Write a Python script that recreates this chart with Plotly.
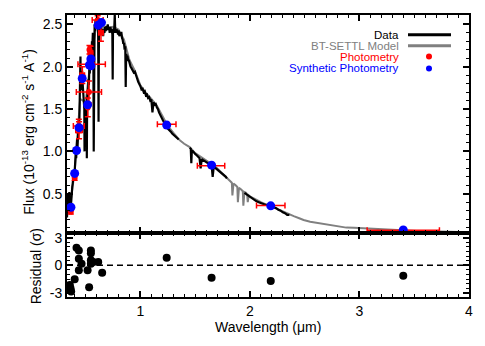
import plotly.graph_objects as go

# ---------------- data ----------------
# observed spectrum (Data, black); None marks gaps
data_wave = [0.330,0.333,0.336,0.339,0.342,0.345,0.348,0.351,0.354,0.357,0.360,0.363,0.366,0.370,0.374,0.378,
             0.382,0.386,0.390,0.394,0.398,0.402,0.406,0.410,0.414,0.418,0.422,0.426,0.430,0.434,0.438,0.442,
             0.446,0.450,0.453,0.456,0.460,0.464,0.468,0.472,0.476,0.480,0.484,0.488,0.490,0.492,0.496,0.500,
             0.504,0.508,0.511,0.514,0.518,0.522,0.526,0.530,0.534,0.538,0.542,0.546,0.550,0.554,0.558,0.562,
             0.566,0.570,0.574,0.578,0.582,0.586,0.590,0.594,0.598,0.602,0.606,0.610,0.614,0.618,0.622,0.626,
             0.630,0.636,0.642,0.648,0.654,0.660,0.666,0.672,0.678,0.684,0.690,0.696,0.702,0.708,0.714,0.720,
             0.726,0.732,0.738,0.744,0.747,0.750,0.756,0.762,0.766,0.770,0.776,0.782,0.790,0.796,0.802,0.808,
             0.814,0.820,0.826,0.832,0.838,0.844,0.850,0.856,0.862,0.866,0.870,0.876,0.882,0.888,0.894,0.900,
             0.910,0.920,0.930,0.940,0.950,0.960,0.970,0.980,0.990,1.000,1.010,1.020,1.030,1.040,1.050,1.060,
             1.070,1.080,1.090,1.100,1.110,1.120,1.130,1.140,1.150,1.160,1.170,1.180,1.190,1.200,1.210,1.220,
             1.230,1.240,1.250,1.260,1.270,1.280,1.290,1.300,1.310,1.320,1.330,1.340,1.350,1.351,
             1.450,1.460,1.465,1.470,1.480,1.490,1.500,1.510,1.520,1.530,1.540,1.550,1.560,1.570,1.580,1.590,
             1.600,1.610,1.620,1.630,1.640,1.650,1.660,1.670,1.680,1.690,1.700,1.710,1.720,1.730,1.740,1.750,
             1.760,1.770,1.780,1.790,1.791,
             1.950,1.960,1.980,2.000,2.020,2.040,2.060,2.080,2.100,2.120,2.140,2.160,2.180,2.200,2.220,2.240,
             2.260,2.280,2.300,2.320,2.340,2.360]
data_flux = [0.22,0.42,0.24,0.50,0.27,0.46,0.30,0.52,0.31,0.44,0.33,0.48,0.36,0.50,0.45,0.58,
             0.62,0.70,0.66,0.78,0.72,0.85,0.80,0.98,0.92,1.08,1.15,1.05,1.30,1.22,1.38,1.30,
             1.60,1.75,2.12,1.72,1.88,1.80,1.95,1.82,1.70,1.78,1.60,1.50,1.00,1.58,1.42,1.55,
             1.38,1.55,0.92,1.60,1.70,1.62,1.85,1.78,2.00,1.92,2.10,2.02,2.20,2.15,2.30,2.25,
             2.40,2.35,1.00,2.45,2.50,2.42,2.55,2.48,2.56,2.50,2.58,2.52,2.55,1.35,2.50,2.42,
             2.48,2.40,2.46,2.38,2.44,2.36,2.45,2.40,2.47,2.42,2.48,2.43,2.50,2.44,2.46,2.40,
             2.47,2.42,2.45,2.38,1.85,2.44,2.40,2.47,2.62,2.44,2.40,2.44,2.42,2.38,2.43,2.36,
             2.40,2.38,2.41,2.34,2.32,2.27,2.28,2.20,2.24,1.76,2.15,2.12,2.13,2.07,2.08,2.04,
             2.00,1.98,1.96,1.93,1.94,1.88,1.86,1.82,1.80,1.77,1.73,1.74,1.70,1.71,1.66,1.67,
             1.63,1.64,1.60,1.61,1.46,1.58,1.55,1.56,1.52,1.50,1.46,1.43,1.40,1.38,1.35,1.33,
             1.31,1.30,1.27,1.26,1.24,1.23,1.21,1.20,1.18,1.17,1.16,1.15,1.14,None,
             1.04,1.03,0.86,1.01,1.00,0.98,0.97,0.96,0.95,0.93,0.92,0.80,0.91,0.90,0.89,0.88,
             0.88,0.87,0.86,0.85,0.84,0.84,0.70,0.82,0.81,0.80,0.79,0.78,0.77,0.76,0.75,0.74,
             0.73,0.72,0.70,0.68,None,
             0.51,0.50,0.48,0.47,0.45,0.42,0.41,0.40,0.39,0.38,0.37,0.37,0.36,0.35,0.34,0.33,
             0.31,0.30,0.28,0.27,0.25,0.25]

# BT-SETTL model (grey)
model_wave = [0.330,0.360,0.400,0.450,0.500,0.550,0.600,0.650,0.700,0.750,0.800,0.850,0.900,0.950,
              1.000,1.050,1.100,1.150,1.200,1.250,1.300,1.360,1.400,1.450,1.500,1.550,1.600,1.650,
              1.700,1.750,1.780,1.800,1.835,1.840,1.850,1.870,1.885,1.890,1.900,1.920,1.935,1.940,
              1.950,1.965,1.975,1.980,1.990,2.000,2.050,2.100,2.150,2.200,2.250,2.300,2.350,2.400,
              2.450,2.490,2.550,2.600,2.670,2.750,2.800,2.880,2.950,3.000,3.130,3.270,3.400,3.520,
              3.640,3.800,4.000]
model_flux = [0.25,0.38,0.76,1.62,1.58,2.12,2.50,2.47,2.46,2.47,2.44,2.32,2.08,1.95,
              1.78,1.69,1.62,1.54,1.42,1.30,1.22,1.13,1.09,1.05,0.98,0.94,0.89,0.85,
              0.80,0.74,0.70,0.67,0.63,0.48,0.62,0.60,0.58,0.40,0.57,0.55,0.53,0.36,
              0.52,0.51,0.49,0.40,0.48,0.47,0.43,0.40,0.37,0.35,0.32,0.29,0.26,0.235,
              0.21,0.19,0.17,0.16,0.15,0.13,0.12,0.10,0.098,0.094,0.084,0.073,0.064,0.060,
              0.056,0.050,0.045]

# observed photometry (red) with error bars
phot_wave = [0.365,0.400,0.438,0.440,0.470,0.520,0.530,0.555,0.545,0.535,0.610,0.640,1.240,1.645,2.190,3.400]
phot_flux = [0.29,0.69,1.30,1.25,1.90,1.52,1.70,2.03,2.16,2.20,2.55,2.40,1.32,0.83,0.36,0.07]
phot_werr = [0.010,0.010,0.050,0.030,0.020,0.010,0.115,0.125,0.020,0.010,0.050,0.020,0.085,0.125,0.130,0.330]
phot_ferr = [0.03,0.03,0.08,0.10,0.10,0.11,0.13,0.02,0.08,0.05,0.05,0.10,0.02,0.02,0.015,0.01]

# synthetic photometry (blue)
syn_wave = [0.366,0.400,0.417,0.440,0.469,0.518,0.535,0.548,0.548,0.615,0.645,1.240,1.650,2.190,3.400]
syn_flux = [0.34,0.74,1.01,1.28,1.86,1.55,2.02,2.01,2.09,2.49,2.52,1.31,0.837,0.357,0.073]

# residuals (sigma)
res_wave = [0.356,0.362,0.368,0.360,0.400,0.417,0.438,0.438,0.438,0.463,0.518,0.548,0.548,0.548,
            0.548,0.532,0.569,0.615,0.651,1.240,1.650,2.190,3.400]
res_val = [-2.14,-2.50,-2.86,-2.70,-1.53,1.90,1.60,0.72,-0.53,0.18,-0.53,1.60,1.30,0.54,
           0.18,-2.40,0.36,0.36,-0.82,0.82,-1.36,-1.71,-1.15]

x_range = [0.33, 4.0]
flux_range = [0.04, 2.61]
res_range = [-3.45, 3.55]
x_ticks = [1, 2, 3, 4]
flux_ticks = [0.5, 1.0, 1.5, 2.0, 2.5]
flux_ticklabels = ["0.5", "1.0", "1.5", "2.0", "2.5"]
res_ticks = [-3, 0, 3]
res_ticklabels = ["-3", "0", "3"]

legend_items = [("Data", "black", "line"), ("BT-SETTL Model", "#808080", "line"),
                ("Photometry", "red", "dot"), ("Synthetic Photometry", "blue", "dot")]

# ---------------- figure ----------------
FONT = "Liberation Sans, Arial, Helvetica, sans-serif"
L, R, T, B = 67, 16, 12, 49
W, H = 485, 346
pw, ph = float(W - L - R), float(H - T - B)

def px_x(px):
    return (px - L) / pw

def px_y(py):
    return 1 - (py - T) / ph

fig = go.Figure()

fig.add_trace(go.Scatter(x=model_wave, y=model_flux, mode="lines",
                         line=dict(color="#808080", width=2), xaxis="x", yaxis="y", showlegend=False))
fig.add_trace(go.Scatter(x=data_wave, y=data_flux, mode="lines", connectgaps=False,
                         line=dict(color="black", width=2.2), xaxis="x", yaxis="y", showlegend=False))
fig.add_trace(go.Scatter(x=phot_wave, y=phot_flux, mode="markers",
                         marker=dict(color="red", size=6),
                         error_x=dict(type="data", array=phot_werr, color="red", thickness=1.5, width=3),
                         error_y=dict(type="data", array=phot_ferr, color="red", thickness=1.5, width=3),
                         xaxis="x", yaxis="y", showlegend=False))
fig.add_trace(go.Scatter(x=syn_wave, y=syn_flux, mode="markers",
                         marker=dict(color="blue", size=9), xaxis="x", yaxis="y", showlegend=False))
fig.add_trace(go.Scatter(x=res_wave, y=res_val, mode="markers",
                         marker=dict(color="black", size=8), xaxis="x2", yaxis="y2", showlegend=False))

axis_common = dict(showline=True, linecolor="black", linewidth=2, mirror="allticks",
                   ticks="inside", ticklen=6, tickwidth=1.5, tickcolor="black",
                   showgrid=False, zeroline=False,
                   tickfont=dict(family=FONT, size=14, color="black"))
minor_common = dict(ticklen=3, tickwidth=1, ticks="inside", tickcolor="black")

fig.update_layout(
    width=W, height=H,
    margin=dict(l=L, r=R, t=T, b=B),
    paper_bgcolor="white", plot_bgcolor="white",
    font=dict(family=FONT, color="black"),
    xaxis=dict(range=x_range, anchor="y", matches="x2", showticklabels=False,
               tickvals=x_ticks, minor=dict(dtick=0.1, **minor_common), **axis_common),
    yaxis=dict(range=flux_range, domain=[0.228, 1], anchor="x", tickvals=flux_ticks,
               ticktext=flux_ticklabels, minor=dict(dtick=0.1, **minor_common), **axis_common),
    xaxis2=dict(range=x_range, anchor="y2", tickvals=x_ticks,
                minor=dict(dtick=0.1, **minor_common), **axis_common),
    yaxis2=dict(range=res_range, domain=[0, 0.228], anchor="x2", tickvals=res_ticks,
                ticktext=res_ticklabels, minor=dict(dtick=0.5, **minor_common), **axis_common),
)

# axis titles placed as annotations
fig.add_annotation(xref="paper", yref="paper", x=px_x(28), y=px_y(130), textangle=-90,
                   text="Flux (10<sup>-13</sup> erg cm<sup>-2</sup> s<sup>-1</sup> A<sup>-1</sup>)",
                   showarrow=False, xanchor="center", yanchor="middle",
                   font=dict(family=FONT, size=14, color="black"))
fig.add_annotation(xref="paper", yref="paper", x=px_x(36), y=px_y(266), textangle=-90,
                   text="Residual (\u03c3)", showarrow=False, xanchor="center", yanchor="middle",
                   font=dict(family=FONT, size=14, color="black"))
fig.add_annotation(xref="paper", yref="paper", x=px_x(268), y=px_y(327),
                   text="Wavelength (\u03bcm)", showarrow=False, xanchor="center", yanchor="middle",
                   font=dict(family=FONT, size=14, color="black"))

# zero line in residual panel
fig.add_shape(type="line", xref="x2 domain", yref="y2", x0=0, x1=1, y0=0, y1=0,
              line=dict(color="black", width=1.5, dash="6px,4px"))

# custom legend (text right-aligned, symbol on the right)
rows_y = [32, 43, 54, 66]
for (label, color, kind), py in zip(legend_items, rows_y):
    yp = px_y(py)
    fig.add_annotation(xref="paper", yref="paper", x=px_x(401), y=yp, text=label,
                       showarrow=False, xanchor="right", yanchor="middle",
                       font=dict(family=FONT, size=11.5, color=color))
    if kind == "line":
        fig.add_shape(type="line", xref="paper", yref="paper",
                      x0=px_x(408), x1=px_x(451), y0=yp, y1=yp,
                      line=dict(color=color, width=3))
    else:
        cx = px_x(429)
        fig.add_shape(type="circle", xref="paper", yref="paper",
                      x0=cx - 3 / pw, x1=cx + 3 / pw, y0=yp - 3 / ph, y1=yp + 3 / ph,
                      fillcolor=color, line=dict(color=color, width=0))

fig.write_html("out.html", config={"displayModeBar": False},
               post_script="document.body.style.margin='0';")
